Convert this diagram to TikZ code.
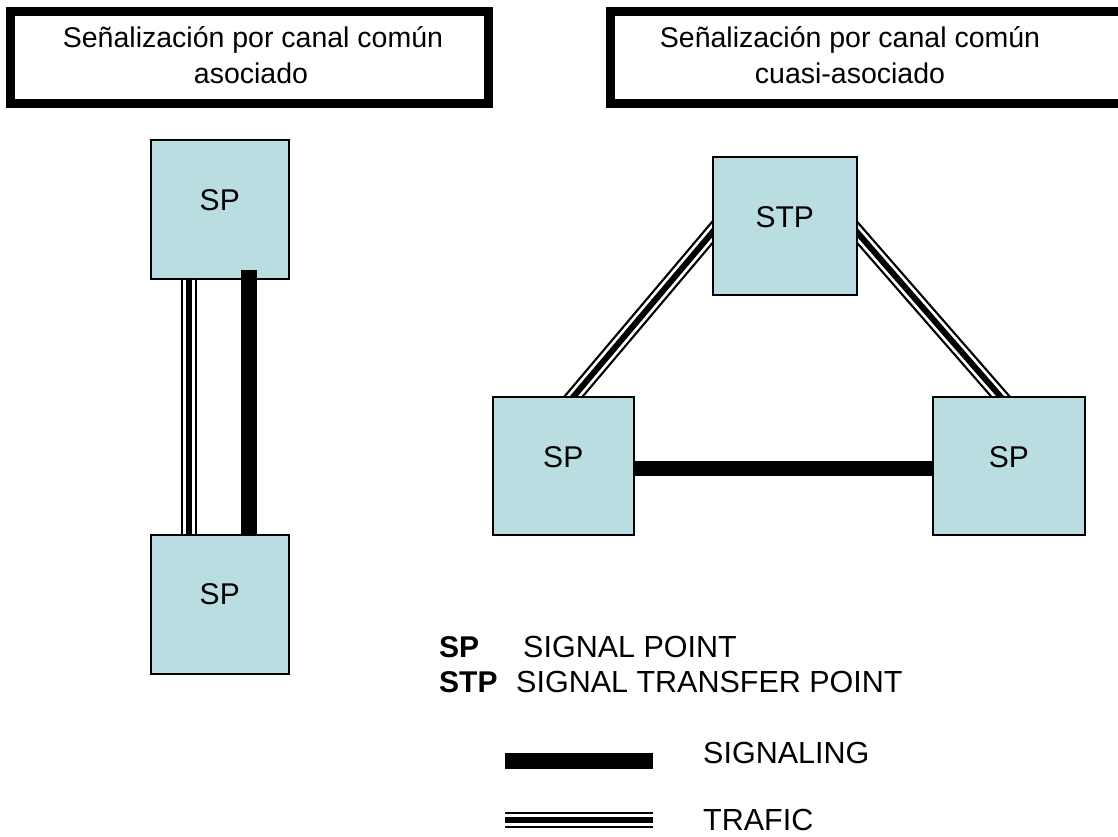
\documentclass[tikz,border=0pt]{standalone}
\usepackage{fontspec}
\setmainfont{Liberation Sans}
\usetikzlibrary{calc,backgrounds}
\definecolor{boxblue}{RGB}{185,221,224}
\begin{document}
\begin{tikzpicture}[x=1pt,y=-1pt,
  box/.style={draw=black,line width=1.5pt,fill=boxblue,inner sep=0pt,anchor=north west},
  boxlabel/.style={font=\fontsize{30}{36}\selectfont,anchor=center,inner sep=0pt},
  titlebox/.style={draw=black,line width=9pt,fill=white,inner sep=0pt},
  titletext/.style={font=\fontsize{28.5}{34}\selectfont,anchor=base,inner sep=0pt},
  legtext/.style={font=\fontsize{30.5}{36}\selectfont,anchor=base west,inner sep=0pt},
  legbold/.style={font=\fontsize{30}{36}\selectfont\bfseries,anchor=base west,inner sep=0pt},
  signaling/.style={line width=16pt,draw=black},
  traffic/.style={line width=16pt,draw=black,
    postaction={draw=white,line width=11.5pt},
    postaction={draw=black,line width=6pt}}]
\useasboundingbox (0,0) rectangle (1118,836);
\clip (0,0) rectangle (1118,836);

% title boxes
\node[titlebox,minimum width=478pt,minimum height=92pt] (t1) at (249,57) {};
\node[titletext] (t1a) at (253,47) {Señalización por canal común};
\node[titletext] (t1b) at (251,83) {asociado};
\node[titlebox,minimum width=520pt,minimum height=92pt] (t2) at (870,57) {};
\node[titletext] (t2a) at (850,47) {Señalización por canal común};
\node[titletext] (t2b) at (850,83) {cuasi-asociado};

% left diagram
\node[box,minimum width=138pt,minimum height=139pt] (spA) at (150,139) {};
\node[boxlabel] (spAl) at ($(spA.north)+(0,61)$) {SP};
\node[box,minimum width=138pt,minimum height=139pt] (spD) at (150,534) {};
\node[boxlabel] (spDl) at ($(spD.north)+(0,60)$) {SP};
\draw[traffic] ($(spA.south west)+(39,0)$) -- ($(spD.north west)+(39,0)$);
\draw[signaling] ($(spA.south west)+(99,-10)$) -- ($(spD.north west)+(99,0)$);

% right diagram
\node[box,minimum width=144pt,minimum height=138pt] (stp) at (712,156) {};
\node[boxlabel] (stpl) at ($(stp.north)+(0,61)$) {STP};
\node[box,minimum width=141pt,minimum height=138pt] (spB) at (492,396) {};
\node[boxlabel] (spBl) at ($(spB.north)+(0,61)$) {SP};
\node[box,minimum width=152pt,minimum height=138pt] (spC) at (932,396) {};
\node[boxlabel] (spCl) at ($(spC.north)+(0,61)$) {SP};

\coordinate (d1a) at ($(spB.north west)+(82,0)$);
\coordinate (d1b) at ($(stp.west)+(0,7)$);
\coordinate (d2a) at ($(stp.east)+(0,7)$);
\coordinate (d2b) at ($(spC.north west)+(68,0)$);
\begin{scope}[on background layer]
\fill[white] (0,0) rectangle (1118,836);
\draw[traffic] ($(d1a)!-14pt!(d1b)$) -- ($(d1b)!-14pt!(d1a)$);
\draw[traffic] ($(d2a)!-14pt!(d2b)$) -- ($(d2b)!-14pt!(d2a)$);
\end{scope}
\draw[signaling,line width=15pt] ($(spB.east)+(0,3)$) -- ($(spC.west)+(0,3)$);

% legend
\node[legbold] (k1) at (439,657) {SP};
\node[legtext] (k1t) at (523,657) {SIGNAL POINT};
\node[legbold] (k2) at (439,692) {STP};
\node[legtext] (k2t) at (516,692) {SIGNAL TRANSFER POINT};
\coordinate (ls1) at (505,761);
\coordinate (ls2) at (653,761);
\draw[signaling] (ls1) -- (ls2);
\node[legtext] (k3) at (703,763) {SIGNALING};
\coordinate (lt1) at (505,820);
\coordinate (lt2) at (653,820);
\draw[traffic] (lt1) -- (lt2);
\node[legtext] (k4) at (703,830) {TRAFIC};
\end{tikzpicture}
\end{document}
